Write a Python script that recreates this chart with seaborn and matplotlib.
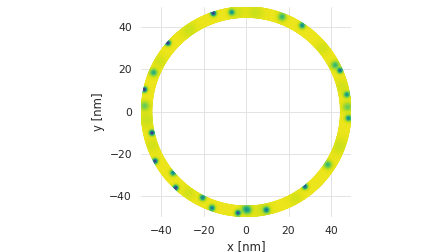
import numpy as np
import seaborn as sns
import matplotlib
matplotlib.use("Agg")
import matplotlib.pyplot as plt

# ring geometry [nm]
r_inner = 44.5
r_outer = 49.5
base_level = 0.97

# spots: angle [deg], radius [nm], depth (0..1), width [nm]
spot_angle = [108.7, 98.6, 139.0, 157.4, 168.0, 177.0, 69.6, 57.3, 28.0, 24.0,
              10.0, 3.0, -3.3, -32.6, -51.5, -78.0, -88.6, 193.0, 208.8, 220.3,
              227.5, 243.5, 250.8, 265.7, 270.0]
spot_radius = [49.0, 47.5, 49.2, 47.5, 49.2, 48.0, 48.0, 48.6, 47.5, 48.5,
               48.3, 48.0, 48.5, 46.0, 45.0, 47.4, 46.5, 45.6, 49.0, 45.0,
               49.0, 45.5, 48.3, 48.0, 46.0]
spot_depth = [0.85, 0.45, 0.85, 0.35, 0.85, 0.2, 0.3, 0.5, 0.3, 0.65,
              0.45, 0.2, 0.5, 0.3, 0.7, 0.55, 0.25, 0.85, 0.8, 0.5,
              0.85, 0.55, 0.55, 0.75, 0.25]
spot_width = [0.8, 0.9, 0.8, 1.1, 0.8, 1.4, 1.2, 0.9, 1.2, 0.8,
              0.9, 1.4, 0.9, 1.2, 0.8, 0.9, 1.2, 0.8, 0.8, 0.9,
              0.8, 0.9, 0.9, 0.8, 1.4]

# faint greenish patches in the background
patch_angle = [125.0, 150.0, 185.0, 200.0, 235.0, 280.0, 300.0, 340.0, 15.0, 40.0, 85.0, 95.0]
patch_depth = [0.05, 0.04, 0.05, 0.04, 0.04, 0.05, 0.04, 0.05, 0.04, 0.04, 0.05, 0.04]
patch_width = [2.5, 2.0, 2.5, 2.0, 2.0, 2.5, 2.0, 2.5, 2.0, 2.0, 2.5, 2.0]

sns.set_theme(style="whitegrid", context="notebook",
              rc={"grid.color": "#e3e3e3"})

r = np.linspace(r_inner, r_outer, 24)
th = np.linspace(0, 2 * np.pi, 1441)
R, TH = np.meshgrid(r, th)
X = R * np.cos(TH)
Y = R * np.sin(TH)

C = np.full_like(X, base_level)
r_mid = 0.5 * (r_inner + r_outer)
for a, d, w in zip(patch_angle, patch_depth, patch_width):
    sx = r_mid * np.cos(np.deg2rad(a))
    sy = r_mid * np.sin(np.deg2rad(a))
    C -= d * np.exp(-((X - sx) ** 2 + (Y - sy) ** 2) / (2 * w ** 2))
for a, rs, d, w in zip(spot_angle, spot_radius, spot_depth, spot_width):
    sx = rs * np.cos(np.deg2rad(a))
    sy = rs * np.sin(np.deg2rad(a))
    C -= d * np.exp(-((X - sx) ** 2 + (Y - sy) ** 2) / (2 * w ** 2))
C = np.clip(C, 0, 1)

fig = plt.figure(figsize=(6.4, 3.6), dpi=70)
ax = fig.add_axes([0.315, 0.1405, 0.4688, 0.8325])
ax.pcolormesh(X, Y, C, shading="gouraud", cmap="viridis", vmin=0, vmax=1)
ax.set_xlim(-r_outer, r_outer)
ax.set_ylim(-r_outer, r_outer)
ax.set_aspect("equal")
ax.set_xticks([-40, -20, 0, 20, 40])
ax.set_yticks([-40, -20, 0, 20, 40])
ax.set_xlabel("x [nm]")
ax.set_ylabel("y [nm]")
sns.despine(ax=ax, left=True, bottom=True)

fig.savefig("out.png", dpi=70)
